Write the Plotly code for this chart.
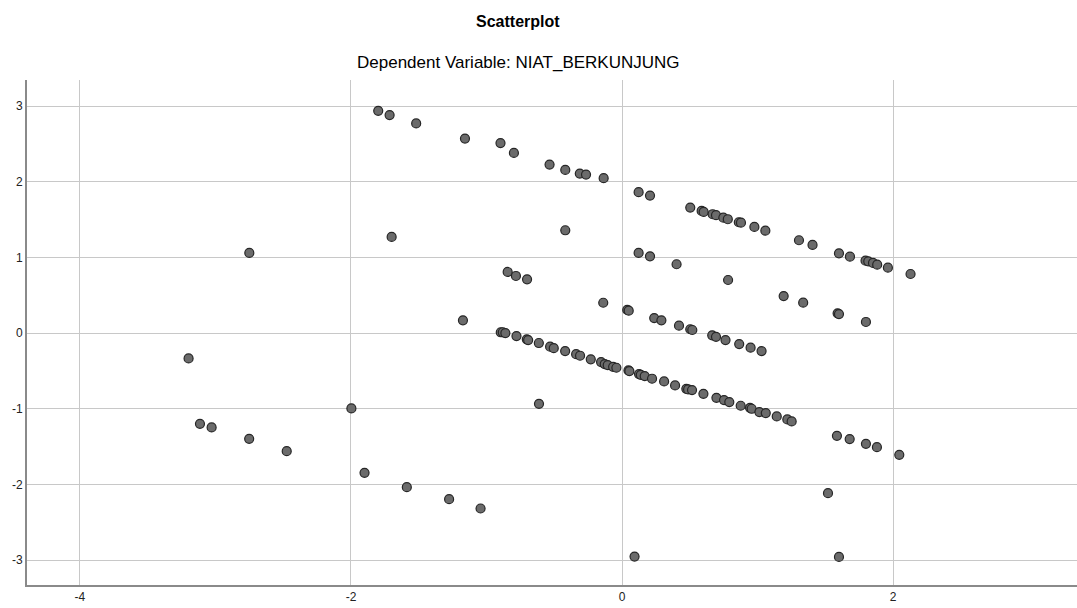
import plotly.graph_objects as go

# Regression standardized predicted value (x) vs standardized residual (y)
x_vals = [
    -1.799, -1.715, -1.519, -1.159, -0.897, -0.798,
    -0.535, -0.419, -0.312, -0.266, -0.136,
    0.122, 0.206, 0.503, 0.587, 0.602, 0.668, 0.693, 0.747, 0.780, 0.861, 0.877, 0.976, 1.057,
    1.305, 1.405, 1.600, 1.681, 1.796, 1.816, 1.851, 1.882, 1.961, 2.128,
    -1.700, -2.750, -0.419,
    0.122, 0.206, 0.402,
    -0.844, -0.783, -0.701, 0.782, 1.192, 1.336,
    -0.139, 0.038, 0.049, 0.237, 0.290, 0.420, 0.503, 0.518, 0.665, 0.693,
    0.763, 0.864, 0.948, 1.029,
    1.590, 1.600, 1.799,
    -1.174, -3.198,
    -0.895, -0.880, -0.861, -0.779, -0.703, -0.693, -0.614, -0.531, -0.504,
    -0.420, -0.339, -0.310, -0.231, -0.155, -0.128, -0.106, -0.066, -0.042,
    0.047, 0.054, 0.125, 0.138, 0.167, 0.221, 0.310, 0.391, 0.474, 0.487, 0.516,
    0.600, 0.696, 0.752, 0.791, 0.875, 0.944, 0.956, 1.013, 1.060, 1.141, 1.219, 1.251,
    -0.613,
    -1.997, -3.114, -3.028, -2.751, -2.474,
    1.585, 1.679, 1.799, 1.880, 2.045,
    -1.900, -1.588, -1.276, -1.044,
    1.519, 0.092, 1.600,
]
y_vals = [
    2.937, 2.880, 2.770, 2.570, 2.510, 2.380,
    2.226, 2.156, 2.107, 2.094, 2.046,
    1.861, 1.816, 1.658, 1.614, 1.600, 1.570, 1.557, 1.525, 1.504, 1.464, 1.459, 1.402, 1.353,
    1.226, 1.164, 1.054, 1.009, 0.956, 0.948, 0.926, 0.904, 0.864, 0.780,
    1.270, 1.058, 1.358,
    1.058, 1.014, 0.909,
    0.807, 0.754, 0.710, 0.701, 0.489, 0.401,
    0.400, 0.305, 0.295, 0.198, 0.168, 0.097, 0.050, 0.040, -0.030, -0.050,
    -0.093, -0.146, -0.194, -0.238,
    0.260, 0.250, 0.146,
    0.168, -0.335,
    0.010, 0.010, 0.000, -0.040, -0.083, -0.093, -0.132, -0.180, -0.200,
    -0.238, -0.280, -0.300, -0.348, -0.384, -0.410, -0.423, -0.446, -0.459,
    -0.494, -0.503, -0.542, -0.552, -0.569, -0.604, -0.639, -0.692, -0.737, -0.745, -0.754,
    -0.803, -0.856, -0.886, -0.913, -0.961, -0.988, -1.001, -1.045, -1.058, -1.102, -1.142, -1.168,
    -0.935,
    -0.997, -1.200, -1.248, -1.398, -1.561,
    -1.358, -1.402, -1.464, -1.508, -1.610,
    -1.848, -2.037, -2.196, -2.319,
    -2.116, -2.954, -2.959,
]

x_ticks = [-4, -2, 0, 2]
y_ticks = [-3, -2, -1, 0, 1, 2, 3]

title_text = "Scatterplot"
subtitle_text = "Dependent Variable: NIAT_BERKUNJUNG"

FONT = "Liberation Sans, Arial, sans-serif"

fig = go.Figure()
fig.add_trace(go.Scatter(
    x=x_vals, y=y_vals, mode="markers",
    marker=dict(size=9, color="#6b6b6b", line=dict(color="#262626", width=1.2)),
    hoverinfo="x+y", showlegend=False,
))

fig.update_layout(
    width=1077, height=608,
    margin=dict(l=27, r=0, t=80, b=23),
    paper_bgcolor="white", plot_bgcolor="white",
    font=dict(family=FONT, color="#222222", size=12),
    xaxis=dict(
        range=[-4.39, 3.356], tickvals=x_ticks, ticktext=[str(v) for v in x_ticks],
        showgrid=True, gridcolor="#c8c8c8", gridwidth=1,
        zeroline=False, showline=True, linecolor="#8a8a8a", linewidth=2,
        ticks="", ticklen=0, tickfont=dict(size=12, color="#222222"),
        fixedrange=True,
    ),
    yaxis=dict(
        range=[-3.33, 3.344], tickvals=y_ticks, ticktext=[str(v) for v in y_ticks],
        showgrid=True, gridcolor="#c8c8c8", gridwidth=1,
        zeroline=False, showline=True, linecolor="#8a8a8a", linewidth=2,
        ticks="", ticklen=0, tickfont=dict(size=12, color="#222222"),
        fixedrange=True,
    ),
    annotations=[
        dict(text="<b>" + title_text + "</b>", xref="paper", yref="paper",
             x=(518 - 27) / 1050, y=1 + (80 - 22) / 505, xanchor="center", yanchor="middle",
             showarrow=False, font=dict(size=16, color="#000000", family=FONT)),
        dict(text=subtitle_text, xref="paper", yref="paper",
             x=(518 - 27) / 1050, y=1 + (80 - 63) / 505, xanchor="center", yanchor="middle",
             showarrow=False, font=dict(size=17, color="#000000", family=FONT)),
    ],
)

fig.write_html("out.html", config={"displayModeBar": False},
               post_script="document.body.style.margin='0';")
